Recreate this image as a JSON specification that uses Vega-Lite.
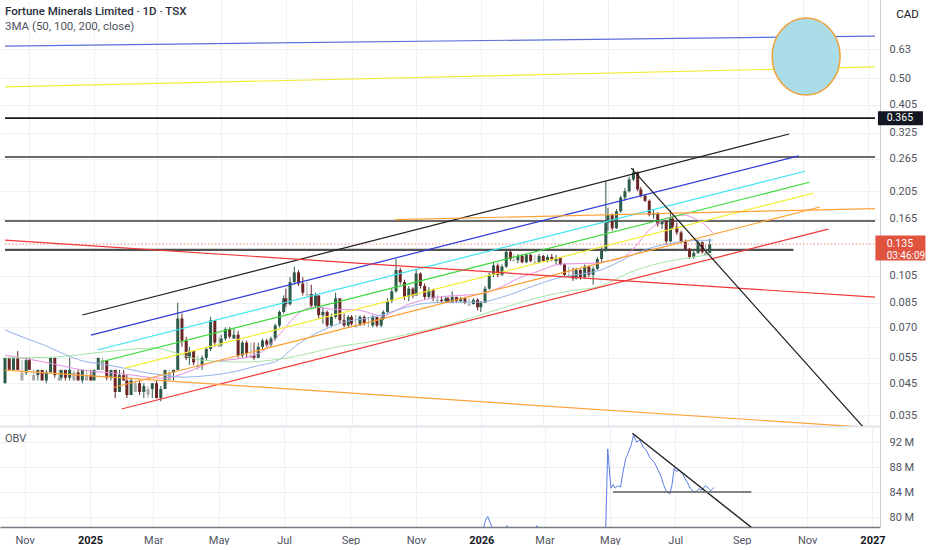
{
  "$schema": "https://vega.github.io/schema/vega-lite/v6.json",
  "description": "Fortune Minerals Limited daily candles on a log price scale with channel drawings, 3MA and OBV",
  "padding": 0,
  "autosize": {"type": "pad"},
  "background": "white",
  "spacing": 0,
  "config": {
    "font": "Roboto",
    "view": {"stroke": null},
    "axis": {"labelFont": "Roboto", "titleFont": "Roboto"},
    "title": {"font": "Roboto", "subtitleFont": "Roboto"}
  },
  "datasets": {
    "candles": [
      {"d": "2024-10-09", "o": 0.045, "h": 0.055, "l": 0.045, "c": 0.055},
      {"d": "2024-10-13", "o": 0.055, "h": 0.055, "l": 0.050, "c": 0.050},
      {"d": "2024-10-17", "o": 0.050, "h": 0.055, "l": 0.050, "c": 0.055},
      {"d": "2024-10-21", "o": 0.055, "h": 0.058, "l": 0.050, "c": 0.050},
      {"d": "2024-10-25", "o": 0.046, "h": 0.054, "l": 0.046, "c": 0.049},
      {"d": "2024-10-29", "o": 0.049, "h": 0.055, "l": 0.048, "c": 0.054},
      {"d": "2024-11-01", "o": 0.054, "h": 0.055, "l": 0.050, "c": 0.050},
      {"d": "2024-11-05", "o": 0.046, "h": 0.050, "l": 0.046, "c": 0.048},
      {"d": "2024-11-09", "o": 0.048, "h": 0.050, "l": 0.046, "c": 0.050},
      {"d": "2024-11-13", "o": 0.050, "h": 0.050, "l": 0.046, "c": 0.046},
      {"d": "2024-11-17", "o": 0.046, "h": 0.050, "l": 0.045, "c": 0.049},
      {"d": "2024-11-21", "o": 0.049, "h": 0.055, "l": 0.049, "c": 0.055},
      {"d": "2024-11-25", "o": 0.055, "h": 0.055, "l": 0.047, "c": 0.048},
      {"d": "2024-11-29", "o": 0.046, "h": 0.050, "l": 0.046, "c": 0.047},
      {"d": "2024-12-01", "o": 0.047, "h": 0.050, "l": 0.046, "c": 0.050},
      {"d": "2024-12-05", "o": 0.050, "h": 0.050, "l": 0.046, "c": 0.047},
      {"d": "2024-12-09", "o": 0.047, "h": 0.055, "l": 0.046, "c": 0.050},
      {"d": "2024-12-13", "o": 0.046, "h": 0.050, "l": 0.046, "c": 0.049},
      {"d": "2024-12-17", "o": 0.049, "h": 0.050, "l": 0.046, "c": 0.046},
      {"d": "2024-12-21", "o": 0.046, "h": 0.050, "l": 0.045, "c": 0.050},
      {"d": "2024-12-25", "o": 0.046, "h": 0.050, "l": 0.046, "c": 0.048},
      {"d": "2024-12-29", "o": 0.048, "h": 0.050, "l": 0.046, "c": 0.046},
      {"d": "2025-01-01", "o": 0.046, "h": 0.050, "l": 0.046, "c": 0.050},
      {"d": "2025-01-05", "o": 0.050, "h": 0.055, "l": 0.050, "c": 0.055},
      {"d": "2025-01-09", "o": 0.050, "h": 0.055, "l": 0.050, "c": 0.054},
      {"d": "2025-01-13", "o": 0.054, "h": 0.054, "l": 0.046, "c": 0.047},
      {"d": "2025-01-17", "o": 0.047, "h": 0.050, "l": 0.046, "c": 0.050},
      {"d": "2025-01-21", "o": 0.050, "h": 0.050, "l": 0.040, "c": 0.042},
      {"d": "2025-01-25", "o": 0.042, "h": 0.050, "l": 0.042, "c": 0.048},
      {"d": "2025-01-29", "o": 0.048, "h": 0.050, "l": 0.046, "c": 0.046},
      {"d": "2025-02-01", "o": 0.046, "h": 0.048, "l": 0.040, "c": 0.041},
      {"d": "2025-02-05", "o": 0.041, "h": 0.047, "l": 0.041, "c": 0.046},
      {"d": "2025-02-09", "o": 0.042, "h": 0.046, "l": 0.042, "c": 0.045},
      {"d": "2025-02-13", "o": 0.045, "h": 0.046, "l": 0.041, "c": 0.042},
      {"d": "2025-02-17", "o": 0.042, "h": 0.045, "l": 0.040, "c": 0.044},
      {"d": "2025-02-21", "o": 0.041, "h": 0.044, "l": 0.040, "c": 0.043},
      {"d": "2025-02-25", "o": 0.043, "h": 0.045, "l": 0.040, "c": 0.045},
      {"d": "2025-03-01", "o": 0.045, "h": 0.046, "l": 0.040, "c": 0.040},
      {"d": "2025-03-05", "o": 0.040, "h": 0.044, "l": 0.039, "c": 0.043},
      {"d": "2025-03-09", "o": 0.043, "h": 0.050, "l": 0.043, "c": 0.050},
      {"d": "2025-03-13", "o": 0.046, "h": 0.050, "l": 0.046, "c": 0.049},
      {"d": "2025-03-17", "o": 0.049, "h": 0.050, "l": 0.046, "c": 0.050},
      {"d": "2025-03-21", "o": 0.050, "h": 0.085, "l": 0.050, "c": 0.075},
      {"d": "2025-03-25", "o": 0.075, "h": 0.078, "l": 0.060, "c": 0.063},
      {"d": "2025-03-29", "o": 0.063, "h": 0.065, "l": 0.054, "c": 0.055},
      {"d": "2025-04-01", "o": 0.055, "h": 0.060, "l": 0.052, "c": 0.058},
      {"d": "2025-04-05", "o": 0.058, "h": 0.058, "l": 0.052, "c": 0.053},
      {"d": "2025-04-09", "o": 0.051, "h": 0.056, "l": 0.050, "c": 0.052},
      {"d": "2025-04-13", "o": 0.052, "h": 0.056, "l": 0.050, "c": 0.055},
      {"d": "2025-04-17", "o": 0.055, "h": 0.060, "l": 0.054, "c": 0.059},
      {"d": "2025-04-21", "o": 0.059, "h": 0.076, "l": 0.058, "c": 0.074},
      {"d": "2025-04-25", "o": 0.074, "h": 0.074, "l": 0.060, "c": 0.062},
      {"d": "2025-04-29", "o": 0.060, "h": 0.065, "l": 0.060, "c": 0.061},
      {"d": "2025-05-01", "o": 0.061, "h": 0.066, "l": 0.060, "c": 0.064},
      {"d": "2025-05-05", "o": 0.064, "h": 0.070, "l": 0.063, "c": 0.069},
      {"d": "2025-05-09", "o": 0.069, "h": 0.070, "l": 0.064, "c": 0.065},
      {"d": "2025-05-13", "o": 0.064, "h": 0.069, "l": 0.064, "c": 0.066},
      {"d": "2025-05-17", "o": 0.066, "h": 0.068, "l": 0.055, "c": 0.056},
      {"d": "2025-05-21", "o": 0.056, "h": 0.063, "l": 0.055, "c": 0.062},
      {"d": "2025-05-25", "o": 0.062, "h": 0.063, "l": 0.055, "c": 0.057},
      {"d": "2025-05-29", "o": 0.055, "h": 0.062, "l": 0.055, "c": 0.056},
      {"d": "2025-06-01", "o": 0.056, "h": 0.062, "l": 0.054, "c": 0.055},
      {"d": "2025-06-05", "o": 0.055, "h": 0.062, "l": 0.055, "c": 0.060},
      {"d": "2025-06-09", "o": 0.060, "h": 0.064, "l": 0.059, "c": 0.063},
      {"d": "2025-06-13", "o": 0.063, "h": 0.064, "l": 0.060, "c": 0.061},
      {"d": "2025-06-17", "o": 0.061, "h": 0.065, "l": 0.060, "c": 0.064},
      {"d": "2025-06-21", "o": 0.064, "h": 0.072, "l": 0.063, "c": 0.071},
      {"d": "2025-06-25", "o": 0.071, "h": 0.080, "l": 0.070, "c": 0.079},
      {"d": "2025-06-29", "o": 0.079, "h": 0.090, "l": 0.078, "c": 0.088},
      {"d": "2025-07-01", "o": 0.088, "h": 0.095, "l": 0.082, "c": 0.084},
      {"d": "2025-07-05", "o": 0.084, "h": 0.104, "l": 0.083, "c": 0.100},
      {"d": "2025-07-09", "o": 0.100, "h": 0.113, "l": 0.098, "c": 0.108},
      {"d": "2025-07-13", "o": 0.108, "h": 0.110, "l": 0.097, "c": 0.099},
      {"d": "2025-07-17", "o": 0.099, "h": 0.104, "l": 0.090, "c": 0.092},
      {"d": "2025-07-21", "o": 0.090, "h": 0.100, "l": 0.090, "c": 0.091},
      {"d": "2025-07-25", "o": 0.091, "h": 0.098, "l": 0.082, "c": 0.083},
      {"d": "2025-07-29", "o": 0.083, "h": 0.092, "l": 0.082, "c": 0.090},
      {"d": "2025-08-01", "o": 0.090, "h": 0.090, "l": 0.075, "c": 0.077},
      {"d": "2025-08-05", "o": 0.077, "h": 0.082, "l": 0.072, "c": 0.079},
      {"d": "2025-08-09", "o": 0.079, "h": 0.080, "l": 0.070, "c": 0.071},
      {"d": "2025-08-13", "o": 0.071, "h": 0.078, "l": 0.070, "c": 0.076},
      {"d": "2025-08-17", "o": 0.076, "h": 0.092, "l": 0.075, "c": 0.088},
      {"d": "2025-08-21", "o": 0.088, "h": 0.088, "l": 0.072, "c": 0.074},
      {"d": "2025-08-25", "o": 0.074, "h": 0.078, "l": 0.070, "c": 0.071},
      {"d": "2025-08-29", "o": 0.071, "h": 0.077, "l": 0.070, "c": 0.076},
      {"d": "2025-09-01", "o": 0.076, "h": 0.077, "l": 0.071, "c": 0.072},
      {"d": "2025-09-05", "o": 0.070, "h": 0.077, "l": 0.070, "c": 0.071},
      {"d": "2025-09-09", "o": 0.071, "h": 0.077, "l": 0.071, "c": 0.076},
      {"d": "2025-09-13", "o": 0.076, "h": 0.077, "l": 0.071, "c": 0.072},
      {"d": "2025-09-17", "o": 0.071, "h": 0.076, "l": 0.070, "c": 0.071},
      {"d": "2025-09-21", "o": 0.071, "h": 0.077, "l": 0.070, "c": 0.076},
      {"d": "2025-09-25", "o": 0.076, "h": 0.076, "l": 0.070, "c": 0.071},
      {"d": "2025-09-29", "o": 0.071, "h": 0.076, "l": 0.070, "c": 0.075},
      {"d": "2025-10-01", "o": 0.075, "h": 0.080, "l": 0.074, "c": 0.079},
      {"d": "2025-10-05", "o": 0.079, "h": 0.088, "l": 0.078, "c": 0.086},
      {"d": "2025-10-09", "o": 0.086, "h": 0.095, "l": 0.085, "c": 0.093},
      {"d": "2025-10-13", "o": 0.093, "h": 0.120, "l": 0.092, "c": 0.110},
      {"d": "2025-10-17", "o": 0.110, "h": 0.112, "l": 0.098, "c": 0.100},
      {"d": "2025-10-21", "o": 0.100, "h": 0.102, "l": 0.087, "c": 0.089},
      {"d": "2025-10-25", "o": 0.089, "h": 0.097, "l": 0.086, "c": 0.095},
      {"d": "2025-10-29", "o": 0.095, "h": 0.096, "l": 0.088, "c": 0.090},
      {"d": "2025-11-01", "o": 0.090, "h": 0.111, "l": 0.090, "c": 0.107},
      {"d": "2025-11-05", "o": 0.107, "h": 0.108, "l": 0.095, "c": 0.097},
      {"d": "2025-11-09", "o": 0.097, "h": 0.099, "l": 0.087, "c": 0.089},
      {"d": "2025-11-13", "o": 0.089, "h": 0.096, "l": 0.088, "c": 0.094},
      {"d": "2025-11-17", "o": 0.094, "h": 0.095, "l": 0.086, "c": 0.088},
      {"d": "2025-11-21", "o": 0.086, "h": 0.090, "l": 0.085, "c": 0.087},
      {"d": "2025-11-25", "o": 0.087, "h": 0.089, "l": 0.085, "c": 0.086},
      {"d": "2025-11-29", "o": 0.086, "h": 0.089, "l": 0.085, "c": 0.088},
      {"d": "2025-12-01", "o": 0.088, "h": 0.089, "l": 0.085, "c": 0.085},
      {"d": "2025-12-05", "o": 0.085, "h": 0.093, "l": 0.085, "c": 0.089},
      {"d": "2025-12-09", "o": 0.089, "h": 0.089, "l": 0.085, "c": 0.086},
      {"d": "2025-12-13", "o": 0.086, "h": 0.089, "l": 0.085, "c": 0.088},
      {"d": "2025-12-17", "o": 0.088, "h": 0.089, "l": 0.084, "c": 0.085},
      {"d": "2025-12-21", "o": 0.083, "h": 0.088, "l": 0.083, "c": 0.084},
      {"d": "2025-12-25", "o": 0.084, "h": 0.088, "l": 0.084, "c": 0.087},
      {"d": "2025-12-29", "o": 0.087, "h": 0.088, "l": 0.080, "c": 0.082},
      {"d": "2026-01-01", "o": 0.082, "h": 0.086, "l": 0.079, "c": 0.085},
      {"d": "2026-01-05", "o": 0.085, "h": 0.097, "l": 0.085, "c": 0.095},
      {"d": "2026-01-09", "o": 0.095, "h": 0.108, "l": 0.094, "c": 0.106},
      {"d": "2026-01-13", "o": 0.106, "h": 0.117, "l": 0.104, "c": 0.114},
      {"d": "2026-01-17", "o": 0.114, "h": 0.116, "l": 0.104, "c": 0.106},
      {"d": "2026-01-21", "o": 0.106, "h": 0.115, "l": 0.105, "c": 0.113},
      {"d": "2026-01-25", "o": 0.113, "h": 0.130, "l": 0.112, "c": 0.127},
      {"d": "2026-01-29", "o": 0.127, "h": 0.128, "l": 0.118, "c": 0.120},
      {"d": "2026-02-01", "o": 0.118, "h": 0.125, "l": 0.118, "c": 0.119},
      {"d": "2026-02-05", "o": 0.119, "h": 0.125, "l": 0.116, "c": 0.123},
      {"d": "2026-02-09", "o": 0.123, "h": 0.125, "l": 0.116, "c": 0.117},
      {"d": "2026-02-13", "o": 0.117, "h": 0.125, "l": 0.116, "c": 0.124},
      {"d": "2026-02-17", "o": 0.124, "h": 0.125, "l": 0.117, "c": 0.118},
      {"d": "2026-02-21", "o": 0.116, "h": 0.124, "l": 0.116, "c": 0.117},
      {"d": "2026-02-25", "o": 0.117, "h": 0.125, "l": 0.116, "c": 0.123},
      {"d": "2026-03-01", "o": 0.123, "h": 0.124, "l": 0.117, "c": 0.118},
      {"d": "2026-03-05", "o": 0.118, "h": 0.124, "l": 0.117, "c": 0.122},
      {"d": "2026-03-09", "o": 0.122, "h": 0.125, "l": 0.118, "c": 0.119},
      {"d": "2026-03-13", "o": 0.118, "h": 0.124, "l": 0.115, "c": 0.121},
      {"d": "2026-03-17", "o": 0.121, "h": 0.122, "l": 0.114, "c": 0.115},
      {"d": "2026-03-21", "o": 0.115, "h": 0.116, "l": 0.104, "c": 0.106},
      {"d": "2026-03-25", "o": 0.104, "h": 0.113, "l": 0.104, "c": 0.105},
      {"d": "2026-03-29", "o": 0.105, "h": 0.112, "l": 0.101, "c": 0.103},
      {"d": "2026-04-01", "o": 0.103, "h": 0.112, "l": 0.102, "c": 0.110},
      {"d": "2026-04-05", "o": 0.110, "h": 0.111, "l": 0.102, "c": 0.104},
      {"d": "2026-04-09", "o": 0.104, "h": 0.115, "l": 0.103, "c": 0.113},
      {"d": "2026-04-13", "o": 0.113, "h": 0.114, "l": 0.104, "c": 0.106},
      {"d": "2026-04-17", "o": 0.106, "h": 0.113, "l": 0.098, "c": 0.111},
      {"d": "2026-04-21", "o": 0.111, "h": 0.122, "l": 0.110, "c": 0.120},
      {"d": "2026-04-25", "o": 0.120, "h": 0.132, "l": 0.117, "c": 0.128},
      {"d": "2026-04-29", "o": 0.128, "h": 0.222, "l": 0.127, "c": 0.160},
      {"d": "2026-05-01", "o": 0.160, "h": 0.180, "l": 0.150, "c": 0.170},
      {"d": "2026-05-05", "o": 0.170, "h": 0.172, "l": 0.150, "c": 0.153},
      {"d": "2026-05-09", "o": 0.153, "h": 0.178, "l": 0.152, "c": 0.175},
      {"d": "2026-05-13", "o": 0.175, "h": 0.198, "l": 0.173, "c": 0.195},
      {"d": "2026-05-17", "o": 0.195, "h": 0.210, "l": 0.190, "c": 0.205},
      {"d": "2026-05-21", "o": 0.205, "h": 0.230, "l": 0.203, "c": 0.225},
      {"d": "2026-05-25", "o": 0.225, "h": 0.246, "l": 0.222, "c": 0.238},
      {"d": "2026-05-29", "o": 0.238, "h": 0.240, "l": 0.205, "c": 0.208},
      {"d": "2026-06-01", "o": 0.208, "h": 0.212, "l": 0.195, "c": 0.198},
      {"d": "2026-06-05", "o": 0.198, "h": 0.200, "l": 0.188, "c": 0.190},
      {"d": "2026-06-09", "o": 0.190, "h": 0.192, "l": 0.168, "c": 0.170},
      {"d": "2026-06-13", "o": 0.170, "h": 0.178, "l": 0.165, "c": 0.172},
      {"d": "2026-06-17", "o": 0.172, "h": 0.174, "l": 0.155, "c": 0.158},
      {"d": "2026-06-21", "o": 0.158, "h": 0.165, "l": 0.152, "c": 0.162},
      {"d": "2026-06-25", "o": 0.162, "h": 0.163, "l": 0.135, "c": 0.138},
      {"d": "2026-06-29", "o": 0.138, "h": 0.176, "l": 0.137, "c": 0.165},
      {"d": "2026-07-01", "o": 0.165, "h": 0.168, "l": 0.152, "c": 0.155},
      {"d": "2026-07-05", "o": 0.155, "h": 0.160, "l": 0.145, "c": 0.148},
      {"d": "2026-07-09", "o": 0.148, "h": 0.150, "l": 0.136, "c": 0.138},
      {"d": "2026-07-13", "o": 0.138, "h": 0.140, "l": 0.128, "c": 0.130},
      {"d": "2026-07-17", "o": 0.130, "h": 0.131, "l": 0.120, "c": 0.122},
      {"d": "2026-07-21", "o": 0.122, "h": 0.128, "l": 0.120, "c": 0.126},
      {"d": "2026-07-25", "o": 0.126, "h": 0.140, "l": 0.125, "c": 0.137},
      {"d": "2026-07-29", "o": 0.137, "h": 0.138, "l": 0.125, "c": 0.127},
      {"d": "2026-08-01", "o": 0.124, "h": 0.135, "l": 0.124, "c": 0.126},
      {"d": "2026-08-05", "o": 0.126, "h": 0.141, "l": 0.126, "c": 0.135}
    ],
    "ma": [
      {"id": "ma50", "d": "2024-10-09", "p": 0.0562},
      {"id": "ma50", "d": "2024-11-15", "p": 0.0532},
      {"id": "ma50", "d": "2024-12-22", "p": 0.0499},
      {"id": "ma50", "d": "2025-01-29", "p": 0.0484},
      {"id": "ma50", "d": "2025-03-07", "p": 0.0468},
      {"id": "ma50", "d": "2025-03-30", "p": 0.0491},
      {"id": "ma50", "d": "2025-04-23", "p": 0.0532},
      {"id": "ma50", "d": "2025-05-21", "p": 0.0549},
      {"id": "ma50", "d": "2025-06-08", "p": 0.0576},
      {"id": "ma50", "d": "2025-06-27", "p": 0.0674},
      {"id": "ma50", "d": "2025-07-09", "p": 0.0758},
      {"id": "ma50", "d": "2025-07-16", "p": 0.0795},
      {"id": "ma50", "d": "2025-07-28", "p": 0.0821},
      {"id": "ma50", "d": "2025-08-13", "p": 0.0808},
      {"id": "ma50", "d": "2025-09-07", "p": 0.0802},
      {"id": "ma50", "d": "2025-10-01", "p": 0.0764},
      {"id": "ma50", "d": "2025-10-10", "p": 0.0789},
      {"id": "ma50", "d": "2025-10-23", "p": 0.0834},
      {"id": "ma50", "d": "2025-11-08", "p": 0.0868},
      {"id": "ma50", "d": "2025-11-21", "p": 0.0888},
      {"id": "ma50", "d": "2025-12-19", "p": 0.0903},
      {"id": "ma50", "d": "2025-12-31", "p": 0.0910},
      {"id": "ma50", "d": "2026-01-18", "p": 0.0954},
      {"id": "ma50", "d": "2026-02-06", "p": 0.1032},
      {"id": "ma50", "d": "2026-02-22", "p": 0.1082},
      {"id": "ma50", "d": "2026-03-18", "p": 0.1153},
      {"id": "ma50", "d": "2026-04-19", "p": 0.1162},
      {"id": "ma50", "d": "2026-05-01", "p": 0.1181},
      {"id": "ma50", "d": "2026-05-11", "p": 0.1199},
      {"id": "ma50", "d": "2026-05-20", "p": 0.1248},
      {"id": "ma50", "d": "2026-05-29", "p": 0.1351},
      {"id": "ma50", "d": "2026-06-07", "p": 0.1485},
      {"id": "ma50", "d": "2026-06-16", "p": 0.1582},
      {"id": "ma50", "d": "2026-06-28", "p": 0.1671},
      {"id": "ma50", "d": "2026-07-11", "p": 0.1698},
      {"id": "ma50", "d": "2026-07-23", "p": 0.1645},
      {"id": "ma50", "d": "2026-08-02", "p": 0.1557},
      {"id": "ma50", "d": "2026-08-08", "p": 0.1473},
      {"id": "ma100", "d": "2024-10-09", "p": 0.0685},
      {"id": "ma100", "d": "2024-10-28", "p": 0.0643},
      {"id": "ma100", "d": "2024-11-15", "p": 0.0608},
      {"id": "ma100", "d": "2024-12-04", "p": 0.0566},
      {"id": "ma100", "d": "2024-12-22", "p": 0.0536},
      {"id": "ma100", "d": "2025-01-10", "p": 0.0523},
      {"id": "ma100", "d": "2025-01-29", "p": 0.0507},
      {"id": "ma100", "d": "2025-02-16", "p": 0.0491},
      {"id": "ma100", "d": "2025-03-07", "p": 0.0480},
      {"id": "ma100", "d": "2025-03-26", "p": 0.0472},
      {"id": "ma100", "d": "2025-04-13", "p": 0.0476},
      {"id": "ma100", "d": "2025-05-11", "p": 0.0491},
      {"id": "ma100", "d": "2025-06-03", "p": 0.0515},
      {"id": "ma100", "d": "2025-06-24", "p": 0.0540},
      {"id": "ma100", "d": "2025-07-09", "p": 0.0599},
      {"id": "ma100", "d": "2025-08-03", "p": 0.0679},
      {"id": "ma100", "d": "2025-08-29", "p": 0.0735},
      {"id": "ma100", "d": "2025-09-16", "p": 0.0752},
      {"id": "ma100", "d": "2025-10-05", "p": 0.0783},
      {"id": "ma100", "d": "2025-10-23", "p": 0.0821},
      {"id": "ma100", "d": "2025-11-11", "p": 0.0847},
      {"id": "ma100", "d": "2025-12-05", "p": 0.0854},
      {"id": "ma100", "d": "2025-12-31", "p": 0.0854},
      {"id": "ma100", "d": "2026-01-21", "p": 0.0888},
      {"id": "ma100", "d": "2026-02-22", "p": 0.0977},
      {"id": "ma100", "d": "2026-03-18", "p": 0.1040},
      {"id": "ma100", "d": "2026-04-12", "p": 0.1074},
      {"id": "ma100", "d": "2026-04-24", "p": 0.1100},
      {"id": "ma100", "d": "2026-05-01", "p": 0.1126},
      {"id": "ma100", "d": "2026-05-11", "p": 0.1171},
      {"id": "ma100", "d": "2026-05-20", "p": 0.1219},
      {"id": "ma100", "d": "2026-06-07", "p": 0.1298},
      {"id": "ma100", "d": "2026-06-26", "p": 0.1351},
      {"id": "ma100", "d": "2026-07-14", "p": 0.1383},
      {"id": "ma100", "d": "2026-08-08", "p": 0.1394},
      {"id": "ma200", "d": "2024-10-09", "p": 0.0549},
      {"id": "ma200", "d": "2024-11-24", "p": 0.0553},
      {"id": "ma200", "d": "2025-01-10", "p": 0.0576},
      {"id": "ma200", "d": "2025-02-26", "p": 0.0594},
      {"id": "ma200", "d": "2025-03-26", "p": 0.0562},
      {"id": "ma200", "d": "2025-04-13", "p": 0.0540},
      {"id": "ma200", "d": "2025-05-21", "p": 0.0532},
      {"id": "ma200", "d": "2025-06-18", "p": 0.0540},
      {"id": "ma200", "d": "2025-07-16", "p": 0.0562},
      {"id": "ma200", "d": "2025-08-13", "p": 0.0594},
      {"id": "ma200", "d": "2025-09-28", "p": 0.0633},
      {"id": "ma200", "d": "2025-10-29", "p": 0.0669},
      {"id": "ma200", "d": "2025-11-30", "p": 0.0712},
      {"id": "ma200", "d": "2025-12-31", "p": 0.0771},
      {"id": "ma200", "d": "2026-01-21", "p": 0.0814},
      {"id": "ma200", "d": "2026-02-22", "p": 0.0881},
      {"id": "ma200", "d": "2026-03-25", "p": 0.0932},
      {"id": "ma200", "d": "2026-04-24", "p": 0.0969},
      {"id": "ma200", "d": "2026-05-20", "p": 0.1074},
      {"id": "ma200", "d": "2026-06-19", "p": 0.1162},
      {"id": "ma200", "d": "2026-07-21", "p": 0.1219},
      {"id": "ma200", "d": "2026-08-08", "p": 0.1248}
    ],
    "lines": [
      {"id": "topblue", "d": "2024-10-09", "p": 0.645},
      {"id": "topblue", "d": "2027-01-08", "p": 0.698},
      {"id": "topyellow", "d": "2024-10-09", "p": 0.467},
      {"id": "topyellow", "d": "2027-01-08", "p": 0.547},
      {"id": "chblack", "d": "2024-12-21", "p": 0.0771},
      {"id": "chblack", "d": "2026-10-19", "p": 0.322},
      {"id": "chblue", "d": "2024-12-29", "p": 0.0658},
      {"id": "chblue", "d": "2026-10-28", "p": 0.271},
      {"id": "chcyan", "d": "2025-01-04", "p": 0.0585},
      {"id": "chcyan", "d": "2026-11-03", "p": 0.240},
      {"id": "chgreen", "d": "2025-01-07", "p": 0.0532},
      {"id": "chgreen", "d": "2026-11-07", "p": 0.220},
      {"id": "chyellow", "d": "2025-01-30", "p": 0.0507},
      {"id": "chyellow", "d": "2026-11-11", "p": 0.202},
      {"id": "chorange", "d": "2025-01-20", "p": 0.0436},
      {"id": "chorange", "d": "2026-11-17", "p": 0.181},
      {"id": "chred", "d": "2025-01-27", "p": 0.0367},
      {"id": "chred", "d": "2026-11-25", "p": 0.152},
      {"id": "reddown", "d": "2024-10-09", "p": 0.1394},
      {"id": "reddown", "d": "2027-01-08", "p": 0.0888},
      {"id": "orangedown", "d": "2024-10-09", "p": 0.0499},
      {"id": "orangedown", "d": "2026-12-29", "p": 0.0318},
      {"id": "orangeflat", "d": "2025-10-12", "p": 0.1638},
      {"id": "orangeflat", "d": "2027-01-08", "p": 0.1787},
      {"id": "blackdown", "d": "2026-05-23", "p": 0.246},
      {"id": "blackdown", "d": "2026-12-28", "p": 0.0318}
    ],
    "levels": [
      {"id": "h365", "p": 0.365, "d": "2024-10-09", "d2": "2027-01-08"},
      {"id": "h268", "p": 0.2685, "d": "2024-10-09", "d2": "2027-01-08"},
      {"id": "h162", "p": 0.162, "d": "2024-10-09", "d2": "2027-01-08"},
      {"id": "h129", "p": 0.129, "d": "2024-10-09", "d2": "2026-10-23"}
    ],
    "last": [
      {"p": 0.135, "d": "2024-10-09", "d2": "2027-01-08"}
    ],
    "target": [
      {"d": "2026-11-04", "p": 0.594}
    ],
    "tags": [
      {"d": "2027-02-01", "dt": "2027-01-19", "p": 0.365, "t": "0.365"},
      {"d": "2027-02-01", "dt": "2027-01-19", "p": 0.135, "t": "0.135"}
    ],
    "obv": [
      {"d": "2024-10-09", "v": 60},
      {"d": "2025-03-20", "v": 58},
      {"d": "2025-03-22", "v": 66},
      {"d": "2025-07-10", "v": 70},
      {"d": "2025-10-14", "v": 72},
      {"d": "2025-12-28", "v": 75},
      {"d": "2026-01-03", "v": 78.2},
      {"d": "2026-01-05", "v": 79.5},
      {"d": "2026-01-07", "v": 80.1},
      {"d": "2026-01-09", "v": 79.2},
      {"d": "2026-01-12", "v": 78.0},
      {"d": "2026-01-20", "v": 77.2},
      {"d": "2026-01-25", "v": 78.6},
      {"d": "2026-01-27", "v": 77.6},
      {"d": "2026-02-20", "v": 77.9},
      {"d": "2026-02-22", "v": 78.6},
      {"d": "2026-02-24", "v": 77.8},
      {"d": "2026-04-25", "v": 76.5},
      {"d": "2026-04-27", "v": 77.5},
      {"d": "2026-04-29", "v": 90.9},
      {"d": "2026-05-01", "v": 86.5},
      {"d": "2026-05-02", "v": 84.6},
      {"d": "2026-05-04", "v": 85.2},
      {"d": "2026-05-06", "v": 84.6},
      {"d": "2026-05-08", "v": 85.0},
      {"d": "2026-05-11", "v": 84.8},
      {"d": "2026-05-13", "v": 87.0},
      {"d": "2026-05-16", "v": 89.5},
      {"d": "2026-05-18", "v": 90.2},
      {"d": "2026-05-21", "v": 91.6},
      {"d": "2026-05-23", "v": 93.1},
      {"d": "2026-05-26", "v": 92.0},
      {"d": "2026-05-29", "v": 92.3},
      {"d": "2026-06-01", "v": 91.2},
      {"d": "2026-06-04", "v": 90.7},
      {"d": "2026-06-07", "v": 89.6},
      {"d": "2026-06-12", "v": 88.6},
      {"d": "2026-06-15", "v": 87.5},
      {"d": "2026-06-18", "v": 86.4},
      {"d": "2026-06-20", "v": 85.2},
      {"d": "2026-06-23", "v": 84.0},
      {"d": "2026-06-26", "v": 83.7},
      {"d": "2026-06-28", "v": 85.2},
      {"d": "2026-06-30", "v": 87.8},
      {"d": "2026-07-02", "v": 87.3},
      {"d": "2026-07-05", "v": 87.5},
      {"d": "2026-07-08", "v": 86.8},
      {"d": "2026-07-10", "v": 86.2},
      {"d": "2026-07-13", "v": 85.3},
      {"d": "2026-07-15", "v": 84.6},
      {"d": "2026-07-18", "v": 84.1},
      {"d": "2026-07-20", "v": 84.0},
      {"d": "2026-07-23", "v": 84.5},
      {"d": "2026-07-26", "v": 84.3},
      {"d": "2026-07-29", "v": 85.0},
      {"d": "2026-08-01", "v": 84.6},
      {"d": "2026-08-03", "v": 84.2},
      {"d": "2026-08-06", "v": 84.7}
    ],
    "obvlines": [
      {"id": "down", "d": "2026-05-22", "v": 93.4},
      {"id": "down", "d": "2026-09-11", "v": 78.2},
      {"id": "flat", "d": "2026-05-04", "v": 84.0},
      {"id": "flat", "d": "2026-09-10", "v": 84.0}
    ]
  },
  "vconcat": [
    {
      "width": 880,
      "height": 426,
      "title": {
        "text": "Fortune Minerals Limited · 1D · TSX",
        "subtitle": "3MA (50, 100, 200, close)",
        "anchor": "start",
        "frame": "group",
        "offset": -32,
        "dx": 5,
        "fontSize": 11.5,
        "fontWeight": 500,
        "color": "#2a2e39",
        "subtitleFontSize": 11.5,
        "subtitleColor": "#50535e",
        "subtitlePadding": 3
      },
      "resolve": {"scale": {"color": "independent"}},
      "layer": [
        {
          "data": {"name": "levels"},
          "mark": {"type": "rule", "clip": true},
          "encoding": {
            "x": {
              "field": "d",
              "type": "temporal",
              "scale": {"type": "utc", "domain": [{"year": 2024, "month": 10, "date": 9, "utc": true}, {"year": 2027, "month": 1, "date": 8, "utc": true}]},
              "axis": {
                "title": null,
                "labels": false,
                "ticks": false,
                "domain": true,
                "domainColor": "#e0e3eb",
                "domainWidth": 2,
                "grid": true,
                "gridColor": "#eef0f4",
                "values": [
                  {"year": 2024, "month": 11, "date": 1, "utc": true},
                  {"year": 2025, "month": 1, "date": 1, "utc": true},
                  {"year": 2025, "month": 3, "date": 1, "utc": true},
                  {"year": 2025, "month": 5, "date": 1, "utc": true},
                  {"year": 2025, "month": 7, "date": 1, "utc": true},
                  {"year": 2025, "month": 9, "date": 1, "utc": true},
                  {"year": 2025, "month": 11, "date": 1, "utc": true},
                  {"year": 2026, "month": 1, "date": 1, "utc": true},
                  {"year": 2026, "month": 3, "date": 1, "utc": true},
                  {"year": 2026, "month": 5, "date": 1, "utc": true},
                  {"year": 2026, "month": 7, "date": 1, "utc": true},
                  {"year": 2026, "month": 9, "date": 1, "utc": true},
                  {"year": 2026, "month": 11, "date": 1, "utc": true},
                  {"year": 2027, "month": 1, "date": 1, "utc": true}
                ]
              }
            },
            "x2": {"field": "d2"},
            "y": {
              "field": "p",
              "type": "quantitative",
              "scale": {"type": "log", "domain": [0.0321, 0.928], "nice": false, "zero": false},
              "axis": {
                "orient": "right",
                "title": "CAD",
                "titleAngle": 0,
                "titleX": 27,
                "titleY": 14,
                "titleAlign": "center",
                "titleBaseline": "middle",
                "titleFontSize": 11.5,
                "titleFontWeight": "normal",
                "titleColor": "#131722",
                "values": [0.035, 0.045, 0.055, 0.07, 0.085, 0.105, 0.165, 0.205, 0.265, 0.325, 0.405, 0.5, 0.63],
                "labelExpr": "datum.value >= 0.5 ? format(datum.value, '.2f') : format(datum.value, '.3f')",
                "labelColor": "#50535e",
                "labelFontSize": 11,
                "labelPadding": 9,
                "labelOverlap": false,
                "ticks": false,
                "domain": true,
                "domainColor": "#c9ccd4",
                "grid": true,
                "gridColor": "#eef0f4"
              }
            },
            "color": {"field": "id", "type": "nominal", "scale": {"domain": ["h365", "h268", "h162", "h129"], "range": ["#1a1a1a", "#6a6a6a", "#6a6a6a", "#505050"]}, "legend": null},
            "strokeWidth": {"field": "id", "type": "nominal", "scale": {"domain": ["h365", "h268", "h162", "h129"], "range": [1.6, 2.4, 2.4, 1.8]}, "legend": null}
          }
        },
        {
          "data": {"name": "candles"},
          "transform": [
            {"window": [{"op": "lag", "field": "c", "as": "pc"}], "sort": [{"field": "d"}]},
            {"calculate": "datum.c < datum.o ? 'down' : ((datum.pc == null || datum.c >= datum.pc) ? 'up' : 'flat')", "as": "k"}
          ],
          "layer": [
            {
              "mark": {"type": "rule", "strokeWidth": 1},
              "encoding": {
                "x": {"field": "d", "type": "temporal", "scale": {"type": "utc"}},
                "y": {"field": "l", "type": "quantitative", "scale": {"type": "log"}},
                "y2": {"field": "h"},
                "color": {"field": "k", "type": "nominal", "scale": {"domain": ["up", "down", "flat"], "range": ["#2d5b48", "#6b2525", "#a9a9a9"]}, "legend": null}
              }
            },
            {
              "mark": {"type": "bar", "width": 3},
              "encoding": {
                "x": {"field": "d", "type": "temporal", "scale": {"type": "utc"}},
                "y": {"field": "o", "type": "quantitative", "scale": {"type": "log"}},
                "y2": {"field": "c"},
                "color": {"field": "k", "type": "nominal", "scale": {"domain": ["up", "down", "flat"], "range": ["#2d5b48", "#6b2525", "#c6c6c6"]}, "legend": null}
              }
            }
          ]
        },
        {
          "data": {"name": "ma"},
          "mark": {"type": "line", "strokeWidth": 1, "interpolate": "monotone"},
          "encoding": {
            "x": {"field": "d", "type": "temporal", "scale": {"type": "utc"}},
            "y": {"field": "p", "type": "quantitative", "scale": {"type": "log"}},
            "color": {"field": "id", "type": "nominal", "scale": {"domain": ["ma50", "ma100", "ma200"], "range": ["#e58ee3", "#93b3ea", "#a6e6a6"]}, "legend": null}
          }
        },
        {
          "data": {"name": "last"},
          "mark": {"type": "rule", "strokeDash": [1.5, 2], "color": "#ef8a82", "strokeWidth": 1},
          "encoding": {
            "x": {"field": "d", "type": "temporal", "scale": {"type": "utc"}},
            "x2": {"field": "d2"},
            "y": {"field": "p", "type": "quantitative", "scale": {"type": "log"}}
          }
        },
        {
          "data": {"name": "lines"},
          "mark": {"type": "line", "strokeWidth": 1.2, "clip": true},
          "encoding": {
            "x": {"field": "d", "type": "temporal", "scale": {"type": "utc"}},
            "y": {"field": "p", "type": "quantitative", "scale": {"type": "log"}},
            "color": {
              "field": "id",
              "type": "nominal",
              "scale": {
                "domain": ["topblue", "topyellow", "chblack", "chblue", "chcyan", "chgreen", "chyellow", "chorange", "chred", "reddown", "orangedown", "orangeflat", "blackdown"],
                "range": ["#5a6fd8", "#f2ec36", "#1e1e1e", "#2b3bd8", "#3fe4ef", "#35da35", "#f3ee36", "#ff9d2c", "#f23737", "#f23737", "#ffa23a", "#ffa23a", "#1e1e1e"]
              },
              "legend": null
            }
          }
        },
        {
          "data": {"name": "target"},
          "mark": {
            "type": "point",
            "shape": "M -0.883 0 A 0.883 1 0 1 0 0.883 0 A 0.883 1 0 1 0 -0.883 0 Z",
            "size": 5929,
            "filled": true,
            "fill": "#abdde8",
            "stroke": "#f2a13a",
            "strokeWidth": 1.5,
            "opacity": 1
          },
          "encoding": {
            "x": {"field": "d", "type": "temporal", "scale": {"type": "utc"}},
            "y": {"field": "p", "type": "quantitative", "scale": {"type": "log"}}
          }
        },
        {
          "data": {"name": "tags"},
          "transform": [{"filter": "datum.p > 0.2"}],
          "mark": {"type": "point", "shape": "M -1 -0.31 L 1 -0.31 L 1 0.31 L -1 0.31 Z", "size": 2025, "filled": true, "color": "#131722", "opacity": 1},
          "encoding": {
            "x": {"field": "d", "type": "temporal", "scale": {"type": "utc"}},
            "y": {"field": "p", "type": "quantitative", "scale": {"type": "log"}}
          }
        },
        {
          "data": {"name": "tags"},
          "transform": [{"filter": "datum.p < 0.2"}],
          "mark": {"type": "point", "shape": "M -1 -0.346 L 1 -0.346 L 1 0.654 L -1 0.654 Z", "size": 2500, "filled": true, "color": "#e0533f", "opacity": 1},
          "encoding": {
            "x": {"field": "d", "type": "temporal", "scale": {"type": "utc"}},
            "y": {"field": "p", "type": "quantitative", "scale": {"type": "log"}}
          }
        },
        {
          "data": {"name": "tags"},
          "mark": {"type": "text", "align": "left", "baseline": "middle", "color": "white", "fontSize": 10.5},
          "encoding": {
            "x": {"field": "dt", "type": "temporal", "scale": {"type": "utc"}},
            "y": {"field": "p", "type": "quantitative", "scale": {"type": "log"}},
            "text": {"field": "t"}
          }
        },
        {
          "data": {"name": "tags"},
          "transform": [{"filter": "datum.p < 0.2"}],
          "mark": {"type": "text", "align": "left", "baseline": "middle", "dy": 12, "color": "white", "fontSize": 10},
          "encoding": {
            "x": {"field": "dt", "type": "temporal", "scale": {"type": "utc"}},
            "y": {"field": "p", "type": "quantitative", "scale": {"type": "log"}},
            "text": {"value": "03:46:09"}
          }
        }
      ]
    },
    {
      "width": 880,
      "height": 101,
      "title": {
        "text": "OBV",
        "anchor": "start",
        "frame": "group",
        "offset": -18,
        "dx": 5,
        "fontSize": 11,
        "fontWeight": "normal",
        "color": "#50535e"
      },
      "encoding": {
        "x": {
          "field": "d",
          "type": "temporal",
          "scale": {"type": "utc", "domain": [{"year": 2024, "month": 10, "date": 9, "utc": true}, {"year": 2027, "month": 1, "date": 8, "utc": true}]},
          "axis": {
            "title": null,
            "ticks": false,
            "domain": true,
            "domainColor": "#787b86",
            "domainWidth": 1.5,
            "grid": true,
            "gridColor": "#eef0f4",
            "labelPadding": 7,
            "labelFontSize": 11,
            "labelColor": {"condition": {"test": "utcmonth(datum.value) == 0", "value": "#131722"}, "value": "#50535e"},
            "labelFontWeight": {"condition": {"test": "utcmonth(datum.value) == 0", "value": "bold"}, "value": "normal"},
            "labelExpr": "utcmonth(datum.value) == 0 ? utcFormat(datum.value, '%Y') : utcFormat(datum.value, '%b')",
            "values": [
              {"year": 2024, "month": 11, "date": 1, "utc": true},
              {"year": 2025, "month": 1, "date": 1, "utc": true},
              {"year": 2025, "month": 3, "date": 1, "utc": true},
              {"year": 2025, "month": 5, "date": 1, "utc": true},
              {"year": 2025, "month": 7, "date": 1, "utc": true},
              {"year": 2025, "month": 9, "date": 1, "utc": true},
              {"year": 2025, "month": 11, "date": 1, "utc": true},
              {"year": 2026, "month": 1, "date": 1, "utc": true},
              {"year": 2026, "month": 3, "date": 1, "utc": true},
              {"year": 2026, "month": 5, "date": 1, "utc": true},
              {"year": 2026, "month": 7, "date": 1, "utc": true},
              {"year": 2026, "month": 9, "date": 1, "utc": true},
              {"year": 2026, "month": 11, "date": 1, "utc": true},
              {"year": 2027, "month": 1, "date": 1, "utc": true}
            ]
          }
        },
        "y": {
          "field": "v",
          "type": "quantitative",
          "scale": {"domain": [78.4, 94.56], "nice": false, "zero": false},
          "axis": {
            "orient": "right",
            "title": null,
            "values": [80, 84, 88, 92],
            "labelExpr": "datum.value + ' M'",
            "labelColor": "#50535e",
            "labelFontSize": 11,
            "labelPadding": 9,
            "labelOverlap": false,
            "ticks": false,
            "domain": true,
            "domainColor": "#c9ccd4",
            "grid": true,
            "gridColor": "#eef0f4"
          }
        }
      },
      "layer": [
        {
          "data": {"name": "obv"},
          "mark": {"type": "line", "clip": true, "color": "#5b7de6", "strokeWidth": 1},
          "encoding": {}
        },
        {
          "data": {"name": "obvlines"},
          "mark": {"type": "line", "clip": true, "strokeWidth": 1.4},
          "encoding": {
            "color": {"field": "id", "type": "nominal", "scale": {"domain": ["down", "flat"], "range": ["#222222", "#5c5c5c"]}, "legend": null}
          }
        }
      ]
    }
  ]
}
